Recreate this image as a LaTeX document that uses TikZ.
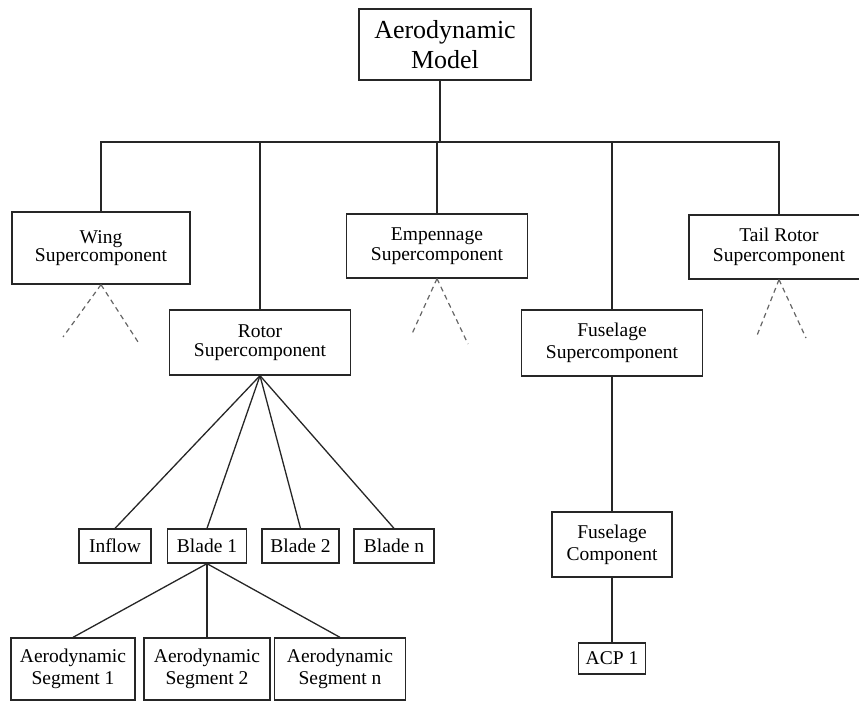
\documentclass[tikz,border=0pt]{standalone}
\usepackage{fontspec}
\setmainfont{Liberation Serif}
\begin{document}
\begin{tikzpicture}[x=1pt,y=-1pt,
  line width=1.3pt,
  box/.style={draw=black!85, line width=1.3pt, inner sep=0pt, align=center,
    font=\fontsize{19.5}{22}\selectfont},
  supbox/.style={box, minimum height=65pt, minimum width=181pt},
  link/.style={draw=black!85, line width=1.3pt},
  hint/.style={draw=black!60, line width=1.2pt, dash pattern=on 5pt off 4pt}
]
\useasboundingbox (0,0) rectangle (859,702);
\clip (0,0) rectangle (859,702);

% top level
\node[box, minimum width=172pt, minimum height=71pt,
      font=\fontsize{26}{30}\selectfont] (model) at (445,44.5) {Aerodynamic\\Model};

% supercomponents
\node[supbox, minimum width=178pt, minimum height=72pt,
      font=\fontsize{19.5}{18.5}\selectfont] (wing) at (101,248) {Wing\\Supercomponent};
\node[supbox, font=\fontsize{19.5}{18.5}\selectfont] (rotor) at (260,342.5) {Rotor\\Supercomponent};
\node[supbox, minimum height=64pt,
      font=\fontsize{19.5}{20}\selectfont] (emp) at (437,246) {Empennage\\Supercomponent};
\node[supbox, minimum height=66pt] (fus) at (612,343) {Fuselage\\Supercomponent};
\node[supbox, minimum width=180pt, minimum height=64pt,
      font=\fontsize{19.5}{20}\selectfont] (tail) at (779,247) {Tail Rotor\\Supercomponent};

% rotor children
\node[box, minimum width=72pt, minimum height=34pt] (inflow) at (115,546) {Inflow};
\node[box, minimum width=79pt, minimum height=34pt] (blade1) at (207,546) {Blade 1};
\node[box, minimum width=77pt, minimum height=34pt] (blade2) at (300.5,546) {Blade 2};
\node[box, minimum width=80pt, minimum height=34pt] (bladen) at (394,546) {Blade n};

% blade segments
\node[box, minimum width=124pt, minimum height=62pt] (seg1) at (73,669) {Aerodynamic\\Segment 1};
\node[box, minimum width=126pt, minimum height=62pt] (seg2) at (207,669) {Aerodynamic\\Segment 2};
\node[box, minimum width=131pt, minimum height=62pt] (segn) at (340,669) {Aerodynamic\\Segment n};

% fuselage branch
\node[box, minimum width=120pt, minimum height=65pt] (fuscomp) at (612,544.5) {Fuselage\\Component};
\node[box, minimum width=67pt, minimum height=31pt] (acp) at (612,658.5) {ACP 1};

% main bus
\coordinate (hub) at (440,142);
\draw[link] (model.south -| hub) -- (hub);
\draw[link] (wing.north) |- (hub) -| (tail.north);
\draw[link] (rotor.north) -- (rotor.north |- hub);
\draw[link] (emp.north) -- (emp.north |- hub);
\draw[link] (fus.north) -- (fus.north |- hub);

% unexpanded branches
\coordinate (wingL) at (63,337);
\coordinate (wingR) at (140,345);
\coordinate (empL) at (411,336);
\coordinate (empR) at (468,344);
\coordinate (tailL) at (756,338);
\coordinate (tailR) at (806,338);
\draw[hint] (wing.south) -- (wingL);
\draw[hint] (wing.south) -- (wingR);
\draw[hint] (emp.south) -- (empL);
\draw[hint] (emp.south) -- (empR);
\draw[hint] (tail.south) -- (tailL);
\draw[hint] (tail.south) -- (tailR);

% rotor fan-out
\draw[link] (rotor.south) -- (inflow.north);
\draw[link] (rotor.south) -- (blade1.north);
\draw[link] (rotor.south) -- (blade2.north);
\draw[link] (rotor.south) -- (bladen.north);

% blade 1 fan-out
\draw[link] (blade1.south) -- (seg1.north);
\draw[link] (blade1.south) -- (seg2.north);
\draw[link] (blade1.south) -- (segn.north);

% fuselage chain
\draw[link] (fus.south) -- (fuscomp.north);
\draw[link] (fuscomp.south) -- (acp.north);
\end{tikzpicture}
\end{document}
